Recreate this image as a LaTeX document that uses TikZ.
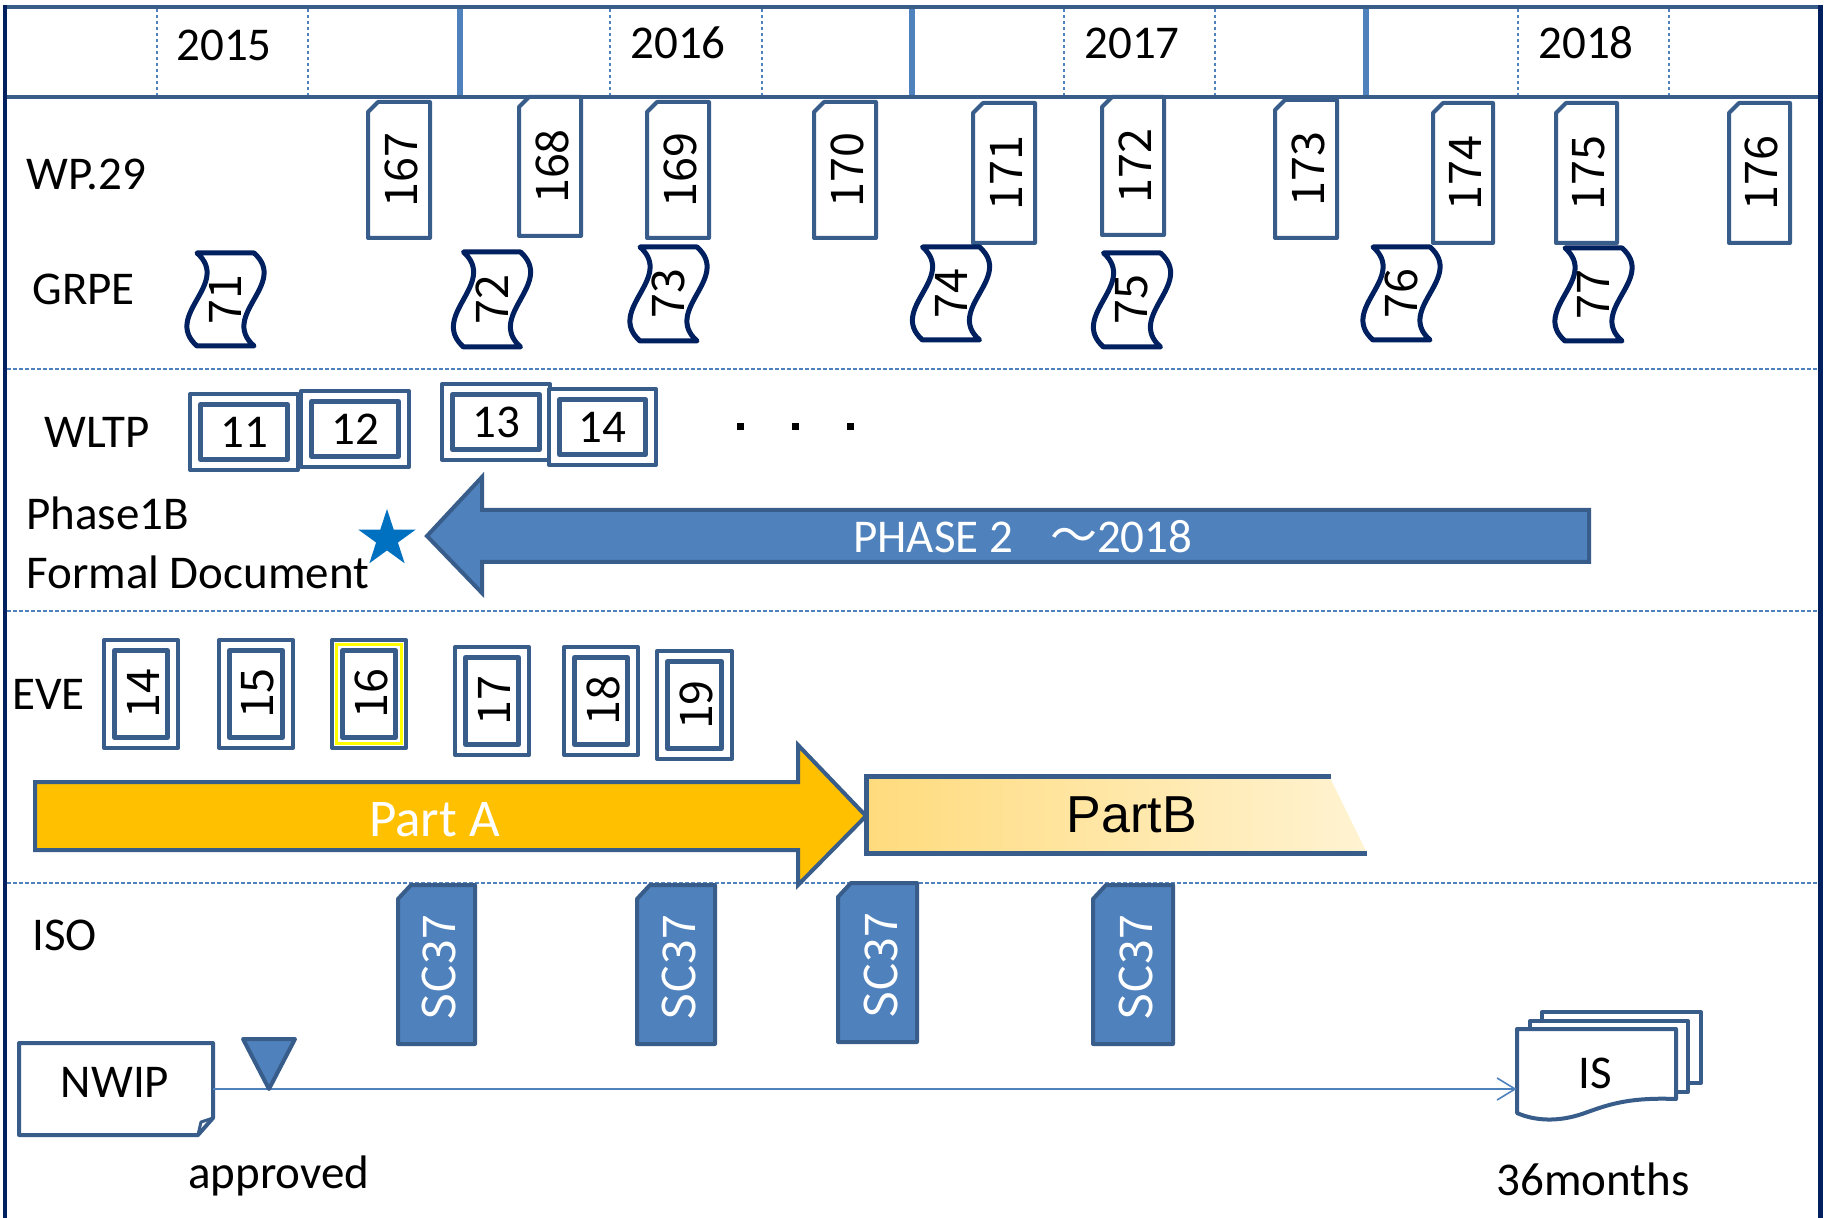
\documentclass[tikz,border=0pt]{standalone}
\usepackage{fontspec}
\setmainfont{Carlito}
\newfontfamily\gothic{Noto Sans CJK JP}
\newfontfamily\arialf{Liberation Sans}
\usetikzlibrary{shapes.geometric,arrows.meta}
\definecolor{edgeb}{HTML}{385D8A}
\definecolor{fillb}{HTML}{4F81BD}
\definecolor{navy}{HTML}{002060}
\definecolor{gold}{HTML}{FFC000}
\definecolor{starb}{HTML}{0070C0}
\definecolor{bleft}{HTML}{FFDB7D}
\definecolor{bright}{HTML}{FFF3D2}
\definecolor{yel}{HTML}{FFFF00}
\begin{document}
\begin{tikzpicture}[x=0.5pt,y=-0.5pt,
  txt/.style={font=\fontsize{23.5}{28}\selectfont, inner sep=0pt},
  lbl/.style={txt, anchor=base west},
  num/.style={font=\gothic\fontsize{22.5}{26}\selectfont, inner sep=0pt, rotate=90},
  wpbox/.style={draw=edgeb, line width=2pt, fill=white, line join=round},
  grpebox/.style={draw=navy, line width=2.5pt, fill=white, line join=round},
  outerfr/.style={draw=edgeb, line width=2pt, fill=white, line join=round},
  innerfr/.style={draw=edgeb, line width=2.5pt, line join=round},
  yelfr/.style={draw=yel, line width=1.75pt},
  scbox/.style={draw=edgeb, line width=2pt, fill=fillb, line join=round},
  blockarrow/.style={draw=edgeb, line width=2pt, line join=miter},
  docbox/.style={draw=edgeb, line width=2pt, fill=white, line join=round},
  sepline/.style={fillb, line width=1.2pt, dash pattern=on 2pt off 1pt},
  conn/.style={fillb, line width=0.8pt},
  dotmark/.style={fill=black, inner sep=0pt, minimum size=3.5pt}
]
\useasboundingbox (0,0) rectangle (1825,1218);
\fill[white] (0,0) rectangle (1825,1218);

% ---------- header ----------
\foreach \x in {157,308,610,762,1064,1215,1518,1669}
  \draw[fillb, line width=0.9pt, dash pattern=on 1.5pt off 1.5pt] (\x,9) -- (\x,95);
\foreach \x in {460,912,1366}
  \draw[fillb, line width=3.2pt] (\x,7) -- (\x,97);
\draw[edgeb, line width=2pt] (3,7) -- (1822,7);
\draw[edgeb, line width=2.2pt] (5,97) -- (1820,97);
\node[txt, anchor=base] (y2015) at (224,61) {2015};
\node[txt, anchor=base] (y2016) at (678,59) {2016};
\node[txt, anchor=base] (y2017) at (1132,59) {2017};
\node[txt, anchor=base] (y2018) at (1586,59) {2018};

% ---------- separators ----------
\draw[sepline] (7,369) -- (1818,369);
\draw[sepline] (7,611) -- (1818,611);
\draw[sepline] (7,883) -- (1818,883);

% ---------- row labels ----------
\node[lbl] (lwp) at (26,190) {WP.29};
\node[lbl] (lgrpe) at (32,305) {GRPE};
\node[lbl] (lwltp) at (44,448) {WLTP};
\node[lbl] (lph) at (26,530) {Phase1B};
\node[lbl] (lfd) at (26,589) {Formal Document};
\node[lbl] (leve) at (12,710) {EVE};
\node[lbl] (liso) at (32,950) {ISO};
\node[lbl] (lappr) at (188,1188) {approved};
\node[lbl] (lmon) at (1496,1195) {36months};

% ---------- WP.29 sessions ----------
\foreach \n/\xa/\ya/\xb/\yb in {167/368/102/430/238, 168/519/97/581/236, 169/647/102/709/238,
  170/814/102/876/238, 171/973/103/1035/243, 172/1102/97/1164/235, 173/1275/100/1337/238,
  174/1433/103/1493/243, 175/1556/103/1617/243, 176/1729/103/1790/243} {
  \draw[wpbox] ({\xa+10},\ya) -- (\xb,\ya) -- (\xb,\yb) -- (\xa,\yb) -- (\xa,{\ya+10}) -- cycle;
  \node[num] (wp\n) at ({(\xa+\xb)/2+2},{(\ya+\yb)/2}) {\n};
}

% ---------- GRPE sessions ----------
\foreach \n/\cx/\ya/\yb in {71/225.5/253/346, 72/492/252/347, 73/668.5/247/341, 74/951/247/340,
  75/1132/253/347, 76/1401.5/247/340, 77/1593.5/248/341} {
  \draw[grpebox] ({\cx-28.5},\ya) -- ({\cx+28.5},\ya)
    .. controls ({\cx+63.5},{\ya+(\yb-\ya)/3}) and ({\cx-6.5},{\ya+2*(\yb-\ya)/3}) .. ({\cx+28.5},\yb)
    -- ({\cx-28.5},\yb)
    .. controls ({\cx-63.5},{\ya+2*(\yb-\ya)/3}) and ({\cx+6.5},{\ya+(\yb-\ya)/3}) .. ({\cx-28.5},\ya)
    -- cycle;
  \node[num] (grpe\n) at (\cx,{(\ya+\yb)/2}) {\n};
}

% ---------- WLTP meetings ----------
\foreach \n/\xa/\ya/\xb/\yb in {11/188/392/300/472, 12/299/389/411/469, 13/440/382/552/462, 14/547/387/658/467} {
  \draw[outerfr] ({\xa+2},{\ya+2}) rectangle ({\xb-2},{\yb-2});
  \draw[innerfr] ({\xa+12.5},{\ya+12.5}) rectangle ({\xb-12.5},{\yb-12.5});
  \node[txt] (wltp\n) at ({(\xa+\xb)/2},{(\ya+\yb)/2}) {\n};
}
\node[dotmark] (dot1) at (740,427) {};
\node[dotmark] (dot2) at (795,427) {};
\node[dotmark] (dot3) at (850,427) {};

% ---------- Phase 2 arrow ----------
\draw[blockarrow, fill=fillb] (1589,510) -- (482,510) -- (482,477) -- (427,536) -- (482,593) -- (482,562) -- (1589,562) -- cycle;
\node[txt, white, anchor=base west] (phase) at (853,553) {PHASE 2\hspace{18.5pt}{\gothic ～}2018};
\node[star, star points=5, star point ratio=2.618, fill=starb, inner sep=0pt, minimum size=30pt] (star) at (387,539) {};

% ---------- EVE meetings ----------
\foreach \n/\xa/\ya/\xb/\yb in {14/102/638/180/750, 15/217/638/295/750, 16/330/638/408/750,
  17/453/645/531/757, 18/562/645/640/757, 19/655/649/734/761} {
  \draw[outerfr] ({\xa+2},{\ya+2}) rectangle ({\xb-2},{\yb-2});
  \draw[innerfr] ({\xa+12.5},{\ya+12.5}) rectangle ({\xb-12.5},{\yb-12.5});
  \node[num] (eve\n) at ({(\xa+\xb)/2+2},{(\ya+\yb)/2}) {\n};
}
\draw[yelfr] (336.5,644.5) rectangle (401.5,743.5);

% ---------- Part A / Part B ----------
\draw[blockarrow, fill=gold] (35,782) -- (798,782) -- (798,745) -- (866,816) -- (798,885) -- (798,850) -- (35,850) -- cycle;
\node[font=\fontsize{26.5}{30}\selectfont, inner sep=0pt, white, anchor=base] (parta) at (434.5,836) {Part A};
\shade[left color=bleft, right color=bright] (866,776) -- (1329,776) -- (1367,853) -- (866,853) -- cycle;
\draw[edgeb, line width=2.5pt] (1331,776) -- (866,776) -- (866,853) -- (1367,853);
\node[font=\arialf\fontsize{26}{30}\selectfont, inner sep=0pt, anchor=base] (partb) at (1132,832) {PartB};

% ---------- ISO SC37 ----------
\foreach \i/\xa/\ya/\xb/\yb in {1/398/885/475/1044, 2/637/885/715/1044, 3/838/883/917/1042, 4/1093/885/1173/1044} {
  \draw[scbox] ({\xa+13},\ya) -- (\xb,\ya) -- (\xb,\yb) -- (\xa,\yb) -- (\xa,{\ya+14}) -- cycle;
  \node[num, white] (sc\i) at ({(\xa+\xb)/2+3},{(\ya+\yb)/2+3}) {SC37};
}

% ---------- NWIP -> IS ----------
\draw[docbox] (19,1043) -- (213,1043) -- (213,1118) -- (198,1135) -- (19,1135) -- cycle;
\draw[edgeb, line width=1.5pt, line join=round] (213,1118) -- (201,1122) -- (198,1135);
\node[inner sep=0pt, minimum width=97pt, minimum height=46pt] (nwipbox) at (116,1089) {};
\node[txt, anchor=base] (nwip) at (115,1097) {NWIP};

\draw[docbox] (1542,1012) rectangle (1701,1083);
\draw[docbox] (1530,1021) rectangle (1688,1092);
\draw[docbox] (1517,1029) -- (1676,1029) -- (1676,1099)
  .. controls (1625,1097) and (1605,1106) .. (1582,1114)
  .. controls (1558,1122) and (1535,1121) .. (1517,1113) -- cycle;
\node[inner sep=0pt, minimum width=79.5pt, minimum height=40pt] (isdoc) at (1596.5,1070) {};
\node[txt, anchor=base] (istext) at (1595,1088) {IS};

\draw[conn, -{Straight Barb[length=9pt, width=11pt, line width=0.8pt]}] (nwipbox.east) -- (nwipbox.east -| isdoc.west);
\draw[draw=edgeb, line width=2pt, fill=fillb, line join=round] (243,1039) -- (295,1039) -- (269,1089) -- cycle;

% ---------- outer frame ----------
\draw[navy, line width=2.2pt] (5,5) -- (5,1218);
\draw[navy, line width=2.5pt] (1820,5) -- (1820,1218);
\end{tikzpicture}
\end{document}
